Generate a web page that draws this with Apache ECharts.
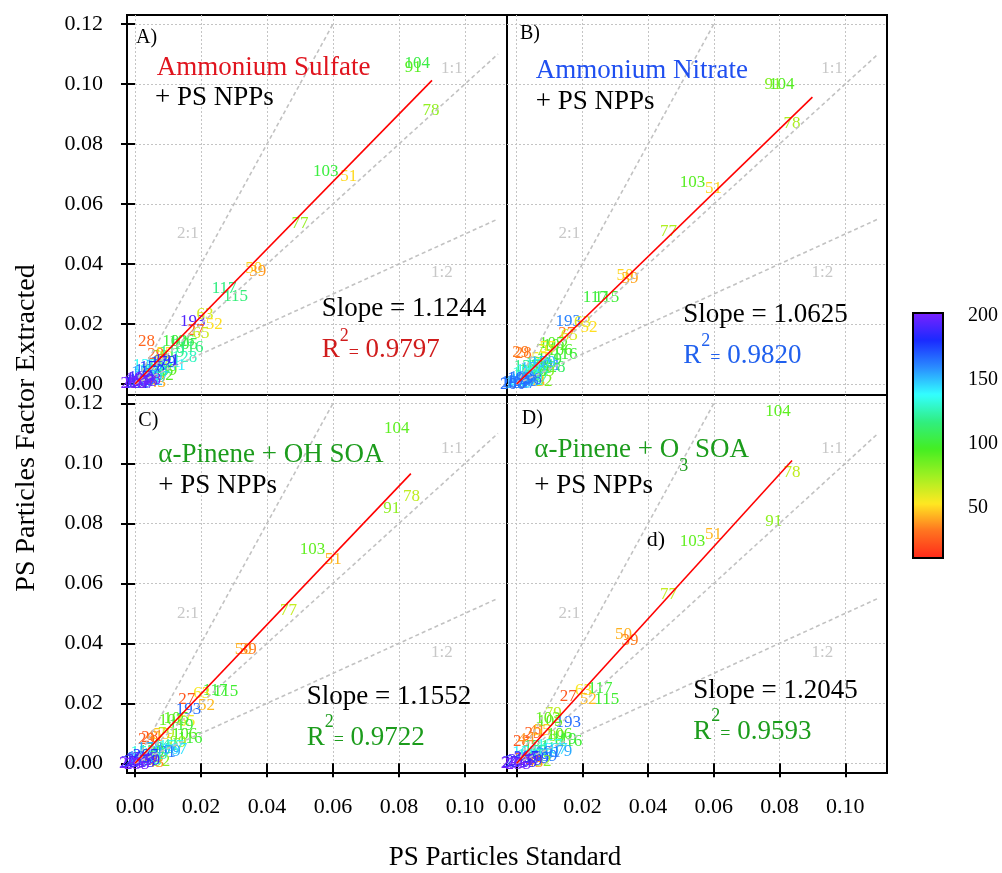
<!DOCTYPE html>
<html>
<head>
<meta charset="utf-8">
<script src="https://cdn.jsdelivr.net/npm/echarts@6/dist/echarts.min.js"></script>
<style>
  html, body { margin: 0; padding: 0; background: #fff; }
  #chart { width: 1002px; height: 873px; }
</style>
</head>
<body>
<div id="chart"></div>
<script>
// ---- Panel A: Ammonium Sulfate + PS NPPs (m/z, standard, extracted) ----
const mzA = [104, 91, 78, 103, 51, 77, 50, 39, 117, 115, 193, 63, 52, 27, 65, 28, 102, 105, 106, 116, 128, 79, 29, 131, 141, 137, 92, 89, 43, 41, 55, 57, 44, 26, 15, 119, 120, 121, 133, 145, 147, 152, 155, 157, 165, 167, 169, 178, 179, 181, 189, 191, 194, 195, 196, 197, 198, 199, 200];
const xA = [0.0855, 0.0843, 0.0897, 0.0578, 0.0648, 0.0500, 0.0360, 0.0372, 0.0270, 0.0305, 0.0175, 0.0212, 0.0240, 0.0185, 0.0200, 0.0035, 0.0121, 0.0152, 0.0142, 0.0170, 0.0150, 0.0075, 0.0063, 0.0100, 0.0115, 0.0032, 0.0092, 0.0102, 0.0068, 0.0050, 0.0090, 0.0082, 0.0040, 0.0028, 0.0010, 0.0112, 0.0060, 0.0076, 0.0050, 0.0035, 0.0062, 0.0046, 0.0027, 0.0070, 0.0020, 0.0038, 0.0012, 0.0052, 0.0086, 0.0005, 0.0018, 0.0096, 0.0008, 0.0030, 0.0000, 0.0022, 0.0040, 0.0012, -0.0005];
const yA = [0.1069, 0.1055, 0.0913, 0.0708, 0.0691, 0.0536, 0.0386, 0.0374, 0.0319, 0.0293, 0.0208, 0.0230, 0.0197, 0.0178, 0.0168, 0.0143, 0.0141, 0.0132, 0.0140, 0.0120, 0.0088, 0.0093, 0.0097, 0.0070, 0.0063, 0.0060, 0.0028, 0.0046, 0.0004, 0.0030, 0.0100, 0.0076, 0.0020, 0.0012, 0.0003, 0.0106, 0.0040, 0.0052, 0.0046, 0.0026, 0.0022, 0.0010, 0.0038, 0.0061, 0.0012, 0.0046, 0.0006, 0.0055, 0.0071, 0.0002, 0.0022, 0.0079, 0.0010, 0.0008, 0.0004, 0.0002, 0.0015, 0.0018, 0.0000];

// ---- Panel B: Ammonium Nitrate + PS NPPs ----
const mzB = [104, 91, 78, 103, 51, 77, 50, 39, 117, 115, 193, 63, 52, 27, 65, 28, 29, 105, 106, 102, 116, 79, 55, 57, 131, 141, 191, 128, 119, 89, 92, 43, 41, 44, 26, 15, 120, 121, 133, 137, 145, 147, 152, 155, 157, 165, 167, 169, 178, 179, 181, 189, 194, 195, 196, 197, 198, 199, 200];
const xB = [0.0807, 0.0780, 0.0838, 0.0535, 0.0599, 0.0462, 0.0330, 0.0345, 0.0239, 0.0274, 0.0157, 0.0200, 0.0220, 0.0152, 0.0160, 0.0020, 0.0012, 0.0107, 0.0132, 0.0118, 0.0147, 0.0085, 0.0095, 0.0070, 0.0066, 0.0078, 0.0096, 0.0110, 0.0100, 0.0090, 0.0083, 0.0060, 0.0045, 0.0035, 0.0025, 0.0008, 0.0055, 0.0068, 0.0045, 0.0030, 0.0032, 0.0058, 0.0042, 0.0025, 0.0065, 0.0018, 0.0036, 0.0010, 0.0050, 0.0080, 0.0002, 0.0016, 0.0006, 0.0028, -0.0010, 0.0020, 0.0038, 0.0010, -0.0012];
const yB = [0.0997, 0.0997, 0.0869, 0.0671, 0.0652, 0.0508, 0.0363, 0.0352, 0.0289, 0.0289, 0.0208, 0.0205, 0.0189, 0.0169, 0.0160, 0.0102, 0.0106, 0.0136, 0.0113, 0.0128, 0.0097, 0.0110, 0.0120, 0.0085, 0.0069, 0.0062, 0.0063, 0.0055, 0.0080, 0.0040, 0.0008, 0.0008, 0.0028, 0.0018, 0.0010, 0.0002, 0.0040, 0.0050, 0.0046, 0.0058, 0.0026, 0.0022, 0.0010, 0.0036, 0.0060, 0.0012, 0.0044, 0.0006, 0.0052, 0.0070, 0.0002, 0.0020, 0.0009, 0.0007, 0.0004, 0.0001, 0.0014, 0.0017, -0.0002];

// ---- Panel C: alpha-Pinene + OH SOA + PS NPPs ----
const mzC = [104, 78, 91, 103, 51, 77, 50, 39, 117, 115, 63, 27, 52, 193, 102, 105, 65, 119, 29, 28, 41, 55, 79, 116, 106, 89, 131, 141, 157, 167, 179, 191, 92, 43, 44, 26, 120, 145, 152, 155, 165, 178, 189, 199, 207, 209, 215, 219, 221, 225, 229, 233, 235];
const xC = [0.0793, 0.0838, 0.0778, 0.0538, 0.0601, 0.0465, 0.0328, 0.0343, 0.0243, 0.0275, 0.0202, 0.0157, 0.0217, 0.0162, 0.0111, 0.0125, 0.0157, 0.0140, 0.0035, 0.0045, 0.0060, 0.0080, 0.0095, 0.0167, 0.0150, 0.0130, 0.0076, 0.0095, 0.0110, 0.0120, 0.0100, 0.0085, 0.0081, 0.0062, 0.0040, 0.0028, 0.0050, 0.0060, 0.0042, 0.0025, 0.0018, 0.0045, 0.0016, 0.0010, 0.0032, 0.0005, 0.0022, 0.0038, -0.0005, 0.0012, 0.0030, -0.0010, 0.0005];
const yC = [0.1117, 0.0891, 0.0850, 0.0714, 0.0681, 0.0511, 0.0381, 0.0381, 0.0241, 0.0239, 0.0233, 0.0211, 0.0194, 0.0180, 0.0144, 0.0150, 0.0139, 0.0125, 0.0078, 0.0086, 0.0090, 0.0095, 0.0100, 0.0083, 0.0095, 0.0070, 0.0050, 0.0060, 0.0055, 0.0045, 0.0040, 0.0035, 0.0006, 0.0003, 0.0020, 0.0010, 0.0040, 0.0030, 0.0012, 0.0035, 0.0012, 0.0050, 0.0020, 0.0016, 0.0025, 0.0005, 0.0003, 0.0008, 0.0002, 0.0008, 0.0015, -0.0002, -0.0003];

// ---- Panel D: alpha-Pinene + O3 SOA + PS NPPs ----
const mzD = [104, 78, 91, 103, 51, 77, 50, 39, 117, 115, 63, 52, 27, 193, 79, 105, 102, 29, 41, 55, 28, 44, 89, 106, 116, 119, 131, 141, 157, 167, 179, 191, 178, 145, 152, 165, 189, 199, 92, 43, 26, 207, 209, 215, 219, 221, 225, 229, 233, 235];
const xD = [0.0795, 0.0838, 0.0782, 0.0535, 0.0599, 0.0462, 0.0325, 0.0345, 0.0254, 0.0274, 0.0203, 0.0218, 0.0157, 0.0157, 0.0111, 0.0101, 0.0095, 0.0050, 0.0062, 0.0078, 0.0015, 0.0030, 0.0121, 0.0130, 0.0162, 0.0145, 0.0060, 0.0080, 0.0100, 0.0115, 0.0130, 0.0095, 0.0070, 0.0050, 0.0040, 0.0025, 0.0085, 0.0060, 0.0080, 0.0055, 0.0020, 0.0030, 0.0005, 0.0022, 0.0040, -0.0005, 0.0012, 0.0030, -0.0010, 0.0005];
const yD = [0.1172, 0.0970, 0.0806, 0.0741, 0.0763, 0.0564, 0.0428, 0.0411, 0.0250, 0.0211, 0.0244, 0.0211, 0.0222, 0.0136, 0.0167, 0.0139, 0.0150, 0.0100, 0.0105, 0.0110, 0.0072, 0.0078, 0.0089, 0.0095, 0.0072, 0.0080, 0.0055, 0.0050, 0.0060, 0.0045, 0.0040, 0.0035, 0.0030, 0.0040, 0.0025, 0.0035, 0.0022, 0.0015, 0.0006, 0.0003, 0.0012, 0.0020, 0.0005, 0.0003, 0.0008, 0.0002, 0.0010, 0.0015, -0.0002, -0.0003];

// ---- Fit results ----
const slopes = [1.1244, 1.0625, 1.1552, 1.2045];
const r2Text = ['0.9797', '0.9820', '0.9722', '0.9593'];
const fitEndX = [0.0900, 0.0900, 0.0836, 0.0838];

// ---- Reference ratio lines (y = k·x) ----
const ratioK = [1, 2, 0.5];
const ratioEndX = [0.11, 0.06, 0.11];
const ratioNames = ['1:1', '2:1', '1:2'];
const ratioNameX = [0.096, 0.016, 0.093];
const ratioNameY = [0.105, 0.050, 0.037];

// ---- Axis ticks ----
const xTicks = [0, 0.02, 0.04, 0.06, 0.08, 0.10];
const yTicks = [0, 0.02, 0.04, 0.06, 0.08, 0.10, 0.12];
const cbTicks = [50, 100, 150, 200];

const SERIF = '"Liberation Serif", "Times New Roman", serif';
const rainbow = ['#ff2a1a', '#ff7420', '#ffe822', '#a0f022', '#44ee22', '#30ee80', '#33ffff', '#2a8cff', '#1a2aff', '#7a22ff'];

const panels = [
  { mz: mzA, x: xA, y: yA, box: { left: 127, top: 15, width: 380, height: 380 }, xr: [-0.00242, 0.11273], yr: [-0.00367, 0.123], xLab: false, yLab: true, cmap: [11.2, 201.8] },
  { mz: mzB, x: xB, y: yB, box: { left: 507, top: 15, width: 380, height: 380 }, xr: [-0.00295, 0.1127], yr: [-0.00367, 0.123], xLab: false, yLab: false, cmap: [0, 245] },
  { mz: mzC, x: xC, y: yC, box: { left: 127, top: 395, width: 380, height: 378 }, xr: [-0.00242, 0.11273], yr: [-0.00323, 0.1228], xLab: true, yLab: true, cmap: [12, 235] },
  { mz: mzD, x: xD, y: yD, box: { left: 507, top: 395, width: 380, height: 378 }, xr: [-0.00295, 0.1127], yr: [-0.00323, 0.1228], xLab: true, yLab: false, cmap: [12, 235] }
];

const grid = [], xAxis = [], yAxis = [], series = [], visualMap = [];
const fmt2 = v => v.toFixed(2);

panels.forEach((p, i) => {
  grid.push(Object.assign({ show: true, borderColor: '#000', borderWidth: 2, backgroundColor: 'transparent' }, p.box));
  xAxis.push({
    type: 'value', gridIndex: i, min: p.xr[0], max: p.xr[1],
    axisLine: { show: false },
    axisTick: { show: p.xLab, inside: false, length: 14, customValues: xTicks, lineStyle: { color: '#000', width: 2 } },
    axisLabel: { show: p.xLab, customValues: xTicks, formatter: fmt2, margin: 23, fontFamily: SERIF, fontSize: 22, color: '#000' },
    splitLine: { show: true, lineStyle: { color: '#c4c4c4', width: 1, type: [2, 2] } }
  });
  yAxis.push({
    type: 'value', gridIndex: i, min: p.yr[0], max: p.yr[1],
    axisLine: { show: false },
    axisTick: { show: p.yLab, inside: false, length: 14, customValues: yTicks, lineStyle: { color: '#000', width: 2 } },
    axisLabel: { show: p.yLab, customValues: yTicks, formatter: fmt2, margin: 24, fontFamily: SERIF, fontSize: 22, color: '#000' },
    splitLine: { show: true, lineStyle: { color: '#c4c4c4', width: 1, type: [2, 2] } }
  });

  // m/z text markers coloured by m/z
  const labelIdx = series.length;
  series.push({
    type: 'custom', xAxisIndex: i, yAxisIndex: i, z: 2, silent: true,
    dimensions: ['x', 'y', 'mz'], encode: { x: 0, y: 1 },
    data: p.mz.map((m, k) => [p.x[k], p.y[k], m]),
    renderItem: (params, api) => {
      const c = api.coord([api.value(0), api.value(1)]);
      return { type: 'text', x: c[0], y: c[1], style: { text: String(api.value(2)), font: '17px ' + SERIF, fill: api.visual('color'), align: 'center', verticalAlign: 'middle' } };
    }
  });
  visualMap.push(i === 0 ? {
    type: 'continuous', seriesIndex: labelIdx, dimension: 2, min: p.cmap[0], max: p.cmap[1],
    inRange: { color: rainbow }, left: 913, top: 313, itemWidth: 30, itemHeight: 245,
    calculable: false, hoverLink: false, padding: 0, text: null, showLabel: false, realtime: false
  } : {
    type: 'continuous', show: false, seriesIndex: labelIdx, dimension: 2, min: p.cmap[0], max: p.cmap[1],
    inRange: { color: rainbow }
  });

  // 1:1, 2:1, 1:2 guide lines
  ratioK.forEach((k, r) => {
    series.push({
      type: 'line', xAxisIndex: i, yAxisIndex: i, z: 3, silent: true, symbol: 'none',
      data: [[0, 0], [ratioEndX[r], k * ratioEndX[r]]],
      lineStyle: { color: '#c2c2c2', width: 1.6, type: [4, 3] }
    });
  });
  series.push({
    type: 'custom', xAxisIndex: i, yAxisIndex: i, z: 3, silent: true,
    data: ratioNames.map((n, r) => [ratioNameX[r], ratioNameY[r]]),
    renderItem: (params, api) => {
      const c = api.coord([api.value(0), api.value(1)]);
      return { type: 'text', x: c[0], y: c[1], style: { text: ratioNames[params.dataIndex], font: '17px ' + SERIF, fill: '#c8c8c8', align: 'center', verticalAlign: 'middle' } };
    }
  });

  // least-squares fit line
  series.push({
    type: 'line', xAxisIndex: i, yAxisIndex: i, z: 4, silent: true, symbol: 'none',
    data: [[0, 0], [fitEndX[i], slopes[i] * fitEndX[i]]],
    lineStyle: { color: '#ff0000', width: 1.6 }
  });
});

// colour bar axis
grid.push({ left: 913, top: 313, width: 30, height: 245, show: false });
xAxis.push({ type: 'value', gridIndex: 4, show: false, min: 0, max: 1 });
yAxis.push({
  type: 'value', gridIndex: 4, position: 'right', min: 11.2, max: 201.8,
  axisLine: { show: false },
  axisTick: { show: true, inside: false, length: 16, customValues: cbTicks, lineStyle: { color: '#000', width: 2 } },
  axisLabel: { show: true, customValues: cbTicks, margin: 25, fontFamily: SERIF, fontSize: 20, color: '#000' },
  splitLine: { show: false }
});

// ---- text annotations ----
const meas = document.createElement('canvas').getContext('2d');
function tw(t, size) { meas.font = size + 'px ' + SERIF; return meas.measureText(t).width; }
// lays out a run of text pieces from a left edge on a common baseline
function textRun(x, base, parts) {
  const out = [];
  let cx = x;
  parts.forEach(([t, size, color, rise]) => {
    out.push({
      type: 'text', x: cx, y: base - (rise || 0) - size * 0.3, z: 50, silent: true,
      style: { text: t, font: size + 'px ' + SERIF, fill: color, align: 'left', verticalAlign: 'middle' }
    });
    cx += tw(t, size);
  });
  return out;
}
const RED = '#e0141e', RED2 = '#d01c1c', BLUE = '#1f4ff0', BLUE2 = '#2060ee', GREEN = '#1c9c1c', BLK = '#000';
const F = 27;
let graphic = [];
graphic = graphic.concat(
  textRun(136, 43.5, [['A)', 20, BLK]]),
  textRun(156.7, 76, [['Ammonium Sulfate', F, RED]]),
  textRun(155, 106, [['+ PS NPPs', F, BLK]]),
  textRun(321.7, 317.3, [['Slope = ' + slopes[0].toFixed(4), F, BLK]]),
  textRun(321.7, 358.3, [['R', F, RED2], ['2', 18, RED2, 16.5], ['=', 18, RED2], [' ' + r2Text[0], F, RED2]]),

  textRun(520, 40, [['B)', 20, BLK]]),
  textRun(535.7, 79.3, [['Ammonium Nitrate', F, BLUE]]),
  textRun(535.7, 110, [['+ PS NPPs', F, BLK]]),
  textRun(683.3, 323.3, [['Slope = ' + slopes[1].toFixed(4), F, BLK]]),
  textRun(683.3, 364, [['R', F, BLUE2], ['2', 18, BLUE2, 17], ['=', 18, BLUE2], [' ' + r2Text[1], F, BLUE2]]),

  textRun(138.3, 426.7, [['C)', 20, BLK]]),
  textRun(158.3, 463.3, [['\u03b1-Pinene + OH SOA', F, GREEN]]),
  textRun(158.3, 494.3, [['+ PS NPPs', F, BLK]]),
  textRun(306.7, 705, [['Slope = ' + slopes[2].toFixed(4), F, BLK]]),
  textRun(306.7, 745.7, [['R', F, GREEN], ['2', 18, GREEN, 18], ['=', 18, GREEN], [' ' + r2Text[2], F, GREEN]]),

  textRun(521.7, 424.3, [['D)', 20, BLK]]),
  textRun(534.3, 458.3, [['\u03b1-Pinene + O', F, GREEN], ['3', 18, GREEN, -13], [' SOA', F, GREEN]]),
  textRun(534.3, 494.3, [['+ PS NPPs', F, BLK]]),
  textRun(693.3, 699, [['Slope = ' + slopes[3].toFixed(4), F, BLK]]),
  textRun(693.3, 740, [['R', F, GREEN], ['2', 18, GREEN, 18], ['=', 18, GREEN], [' ' + r2Text[3], F, GREEN]]),
  textRun(646.7, 546.7, [['d)', 22, BLK]])
);
// axis titles
graphic.push({ type: 'text', x: 505, y: 858, z: 50, silent: true, style: { text: 'PS Particles Standard', font: '27px ' + SERIF, fill: BLK, align: 'center', verticalAlign: 'middle' } });
graphic.push({ type: 'text', x: 27, y: 428, rotation: Math.PI / 2, z: 50, silent: true, style: { text: 'PS Particles Factor Extracted', font: '28px ' + SERIF, fill: BLK, align: 'center', verticalAlign: 'middle' } });
// colour bar frame
graphic.push({ type: 'rect', z: 60, silent: true, shape: { x: 913, y: 313, width: 30, height: 245 }, style: { fill: 'none', stroke: '#000', lineWidth: 2 } });

const chart = echarts.init(document.getElementById('chart'), null, { renderer: 'canvas' });
chart.setOption({
  animation: false,
  backgroundColor: '#fff',
  grid, xAxis, yAxis, series, visualMap, graphic
});
</script>
</body>
</html>
